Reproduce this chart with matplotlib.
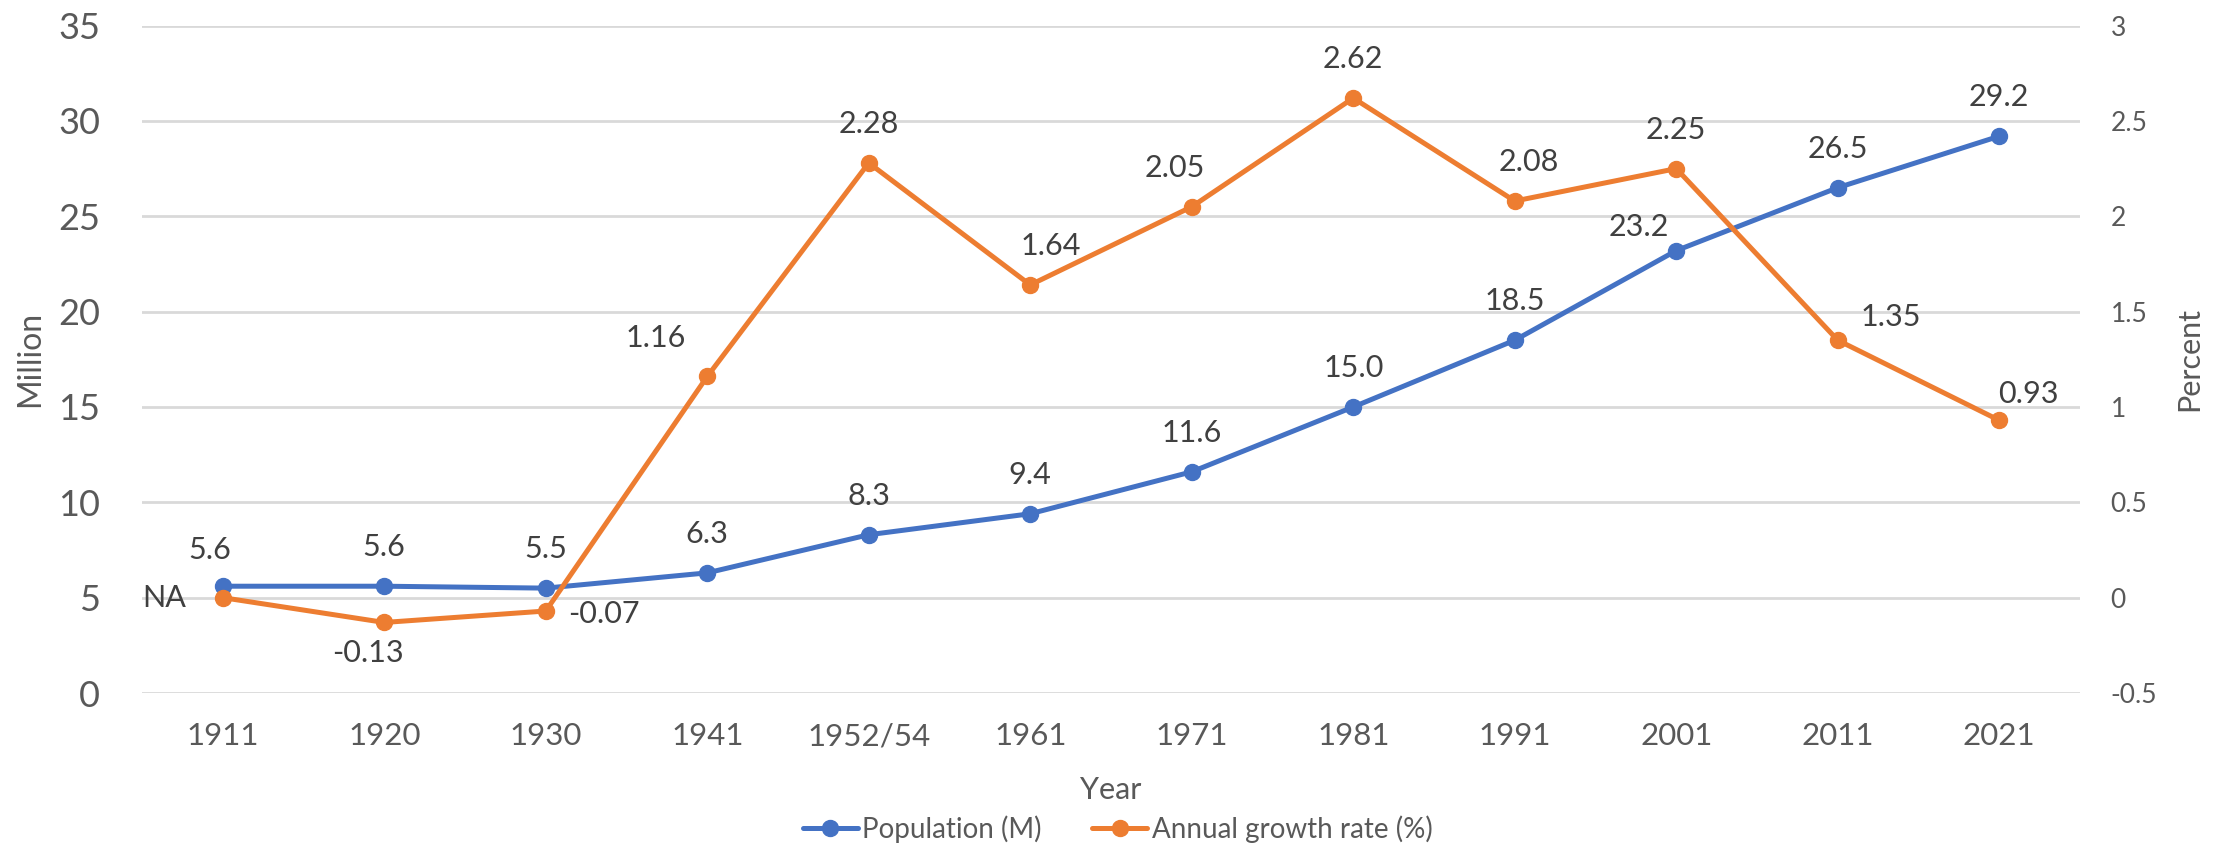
import matplotlib
import matplotlib.pyplot as plt

matplotlib.use('Agg')

plt.rcParams['font.family'] = ['Lato', 'DejaVu Sans']

# Data
years = ['1911', '1920', '1930', '1941', '1952/54', '1961', '1971', '1981',
         '1991', '2001', '2011', '2021']
population = [5.6, 5.6, 5.5, 6.3, 8.3, 9.4, 11.6, 15.0, 18.5, 23.2, 26.5, 29.2]
growth = [0, -0.13, -0.07, 1.16, 2.28, 1.64, 2.05, 2.62, 2.08, 2.25, 1.35, 0.93]
pop_labels = ['5.6', '5.6', '5.5', '6.3', '8.3', '9.4', '11.6', '15.0', '18.5',
              '23.2', '26.5', '29.2']
growth_labels = ['NA', '-0.13', '-0.07', '1.16', '2.28', '1.64', '2.05', '2.62',
                 '2.08', '2.25', '1.35', '0.93']

# label offsets (points) relative to each marker
pop_offsets = [(-9, 26), (0, 28), (0, 28), (0, 28), (0, 28), (0, 28), (0, 28),
               (0, 28), (0, 28), (-27, 17), (0, 28), (0, 28)]
growth_offsets = [(-42, 0), (-12, -22), (42, -2), (-37, 28), (0, 28), (15, 28),
                  (-12, 28), (0, 28), (10, 28), (0, 28), (38, 17), (21, 19)]

BLUE = '#4472C4'
ORANGE = '#ED7D31'
GRID = '#D9D9D9'
TICK = '#595959'
LABEL = '#404040'

W, H = 2226, 847
fig = plt.figure(figsize=(W / 100, H / 100), dpi=100)
ax = fig.add_axes([142 / W, 1 - 693 / H, (2080 - 142) / W, (693 - 25.6) / H])
ax2 = ax.twinx()

x = list(range(len(years)))

ax.plot(x, population, color=BLUE, lw=3.6, marker='o', ms=11.5,
        label='Population (M)', zorder=3, solid_capstyle='round')
ax2.plot(x, growth, color=ORANGE, lw=3.6, marker='o', ms=11.5,
         label='Annual growth rate (%)', zorder=3, solid_capstyle='round')

for xi, yi, txt, off in zip(x, population, pop_labels, pop_offsets):
    ax.annotate(txt, (xi, yi), xytext=off, textcoords='offset points',
                ha='center', va='center', fontsize=22, color=LABEL)
for xi, yi, txt, off in zip(x, growth, growth_labels, growth_offsets):
    ax2.annotate(txt, (xi, yi), xytext=off, textcoords='offset points',
                 ha='center', va='center', fontsize=22, color=LABEL)

ax.set_xlim(-0.5, len(years) - 0.5)
ax.set_ylim(0, 35)
ax2.set_ylim(-0.5, 3)
ax.set_yticks(range(0, 36, 5))
ax2.set_yticks([-0.5, 0, 0.5, 1, 1.5, 2, 2.5, 3])
ax2.set_yticklabels(['-0.5', '0', '0.5', '1', '1.5', '2', '2.5', '3'])
ax.set_xticks(x)
ax.set_xticklabels(years)

ax.yaxis.grid(True, color=GRID, lw=2)
ax.set_axisbelow(True)
for a in (ax, ax2):
    for s in a.spines.values():
        s.set_visible(False)
ax.tick_params(axis='y', length=0, pad=30, labelsize=26, labelcolor=TICK)
ax.tick_params(axis='x', length=0, pad=21, labelsize=22.5, labelcolor=TICK)
ax2.tick_params(axis='y', length=0, pad=22, labelsize=19, labelcolor=TICK)

# axis titles
fig.text(1111 / W, 1 - 790 / H, 'Year', ha='center', va='center',
         fontsize=22, color=TICK)
fig.text(30 / W, 1 - 359 / H, 'Million', ha='center', va='center',
         rotation=90, fontsize=23, color=TICK)
fig.text(2189 / W, 1 - 359 / H, 'Percent', ha='center', va='center',
         rotation=90, fontsize=22, color=TICK)

h1, l1 = ax.get_legend_handles_labels()
h2, l2 = ax2.get_legend_handles_labels()
fig.legend(h1 + h2, l1 + l2, loc='center', bbox_to_anchor=(0.502, 1 - 829 / H),
           ncol=2, frameon=False, fontsize=20, handlelength=2.0,
           handletextpad=0.15, columnspacing=1.8, labelcolor=TICK)

fig.savefig('out.png', dpi=100)
